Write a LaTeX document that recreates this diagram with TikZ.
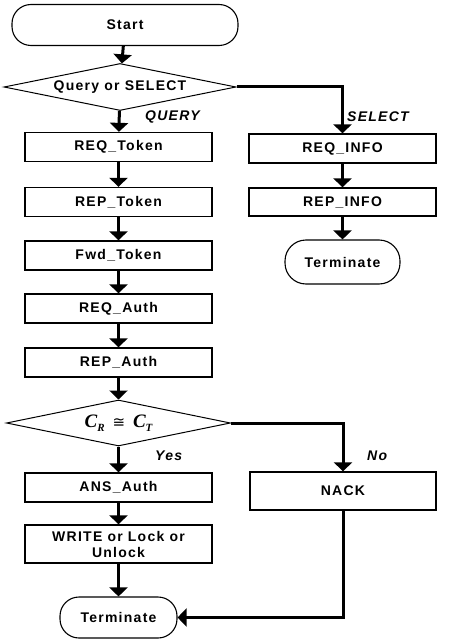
\documentclass[tikz,border=0pt]{standalone}
\usepackage{fontspec}
\setmainfont{Liberation Sans}[LetterSpace=9]
\newfontfamily\condfont{Liberation Serif}
\newfontfamily\relfont{DejaVu Sans}
\usetikzlibrary{arrows.meta,shapes.geometric}

\tikzset{
  box/.style={draw, line width=1.3pt, minimum width=187pt, minimum height=29pt,
    inner sep=0pt, align=center, font=\fontsize{14}{16}\selectfont\bfseries},
  term/.style={draw, line width=1.1pt, rounded corners=19pt, minimum height=41pt,
    inner sep=0pt, font=\fontsize{14}{16}\selectfont\bfseries},
  decide/.style={draw, line width=1pt, diamond, inner sep=0pt,
    font=\fontsize{14}{16}\selectfont\bfseries},
  flow/.style={line width=3pt, -{Triangle[width=18pt,length=9pt]}},
  tag/.style={anchor=west, inner sep=0pt, font=\fontsize{14}{16}\selectfont\bfseries\itshape},
}
\newcommand{\subidx}[1]{\raisebox{-0.4ex}{\fontsize{11}{11}\selectfont #1}}

\begin{document}
\begin{tikzpicture}[x=1pt, y=-1pt]
\useasboundingbox (0,0) rectangle (459,639);

% main column
\node[term, minimum width=226pt] (start) at (125,25) {Start};
\node[decide, minimum width=232pt, minimum height=47pt, shape aspect=4.94] (q1) at (120,87) {Query or SELECT};
\node[box] (reqtok) at (118.5,147) {REQ\_Token};
\node[box] (reptok) at (118.5,202) {REP\_Token};
\node[box] (fwdtok) at (118.5,255.5) {Fwd\_Token};
\node[box] (reqauth) at (118.5,308.5) {REQ\_Auth};
\node[box] (repauth) at (118.5,362.5) {REP\_Auth};
\node[decide, minimum width=224pt, minimum height=46pt, shape aspect=4.87,
  font=\condfont\fontsize{19}{20}\selectfont\bfseries\itshape] (q2) at (118.5,423)
  {C\subidx{R}\ \,{\relfont\fontsize{15}{15}\selectfont\upshape\mdseries ≅}\ \,C\subidx{T}};
\node[box] (ansauth) at (118.5,487.5) {ANS\_Auth};
\node[box, minimum height=38pt, font=\fontsize{14}{16}\selectfont\bfseries] (write) at (118.5,544) {WRITE or Lock or\\Unlock};
\node[term, minimum width=117pt] (end1) at (118.5,617.5) {Terminate};

% SELECT branch
\node[box] (reqinfo) at (342.5,148.5) {REQ\_INFO};
\node[box, minimum height=28pt] (repinfo) at (342.5,202) {REP\_INFO};
\node[term, minimum width=115pt, minimum height=44pt, rounded corners=21pt] (end2) at (342.5,262) {Terminate};

% mismatch branch
\node[box, minimum width=186pt, minimum height=38pt] (nack) at (343,491) {NACK};

% branch labels
\node[tag] (lquery) at (145,117) {QUERY};
\node[tag] (lselect) at (347,117) {SELECT};
\node[tag] (lyes) at (155,456) {Yes};
\node[tag] (lno) at (367,456) {No};

% connectors
\draw[flow] (start) -- (q1);
\draw[flow] (q1) -- (reqtok);
\draw[flow] (reqtok) -- (reptok);
\draw[flow] (reptok) -- (fwdtok);
\draw[flow] (fwdtok) -- (reqauth);
\draw[flow] (reqauth) -- (repauth);
\draw[flow] (repauth) -- (q2);
\draw[flow] (q2) -- (ansauth);
\draw[flow] (ansauth) -- (write);
\draw[flow] (write) -- (end1);
\draw[flow] (q1.east) -| (reqinfo.north);
\draw[flow] (reqinfo) -- (repinfo);
\draw[flow] (repinfo) -- (end2);
\draw[flow] (q2.east) -| (nack.north);
\draw[flow] (nack.south) |- (end1.east);
\end{tikzpicture}
\end{document}
